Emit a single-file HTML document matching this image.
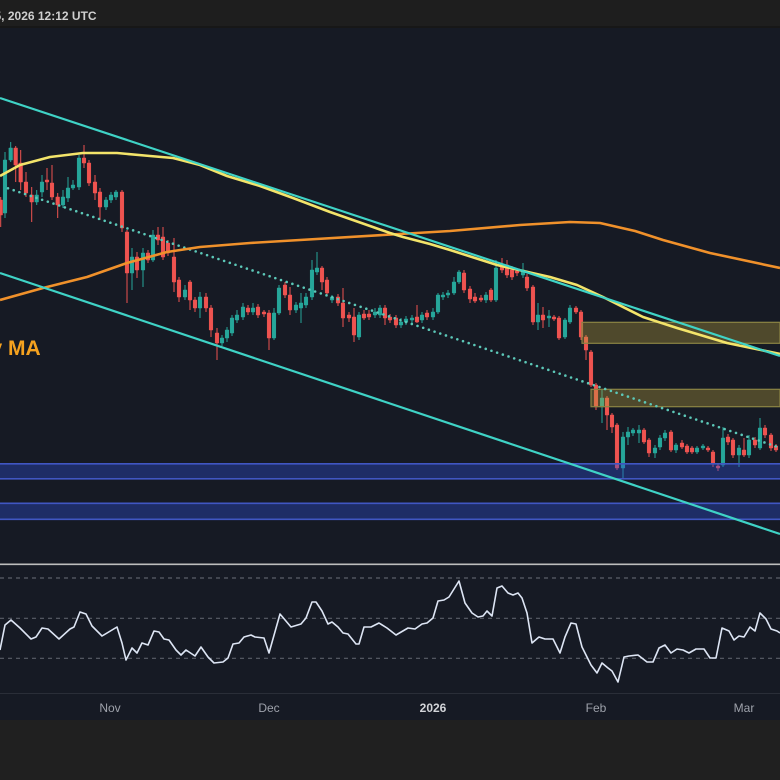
<!DOCTYPE html>
<html><head><meta charset="utf-8"><style>
html,body{margin:0;padding:0;background:#202020;}
svg{display:block;}
</style></head><body>
<svg width="780" height="780" viewBox="0 0 780 780" xmlns="http://www.w3.org/2000/svg" font-family="Liberation Sans, Arial, sans-serif">
<rect x="0" y="0" width="780" height="780" fill="#202020"/>
<rect x="0" y="0" width="780" height="26" fill="#1e1e1e"/>
<rect x="0" y="26" width="780" height="2" fill="#171717"/>
<text x="-5.5" y="20" font-size="12" font-weight="bold" fill="#cfcfcf">5, 2026 12:12 UTC</text>
<rect x="0" y="28" width="780" height="692" fill="#161a24"/>
<clipPath id="main"><rect x="0" y="28" width="780" height="536"/></clipPath>
<g clip-path="url(#main)">
<path fill="none" stroke="#26a69a" stroke-width="1" d="M5 152V218M10.7 142V162M36.7 190V205M42 175V197M63 190V208M68 177V202M73 180V190M79 155V190M106 197V210M111 192V203M116 190V200M132 248V290M143 248V287M153 230V262M185 285V300M200 292V318M222 335V346M227 327V342M232 315V336M237 310V323M243 303V320M253 303V315M274 308V340M279 285V315M296 302V313M301 293V323M306 293V308M312 260V300M317 252V275M332 295V303M359 312V340M375 308V318M380 305V318M401 318V328M406 316V325M412 315V323M422 312V323M433 308V320M438 293V314M443 292V300M448 290V298M454 277V295M459 270V284M486 292V303M496 260V302M523 263V278M538 303V330M549 310V327M565 318V339M570 305V324M602 390V423M623 432V478M628 427V445M633 428V436M639 425V443M655 445V458M660 435V450M665 430V441M676 443V453M697 446V454M703 444V450M723 427V467M739 445V467M749 435V458M760 418V450"/>
<path fill="#26a69a" stroke="#26a69a" stroke-width="0.5" d="M3.2 160h3.6v53h-3.6zM8.9 148h3.6v12h-3.6zM34.9 195h3.6v7h-3.6zM40.2 182h3.6v10h-3.6zM61.2 197h3.6v8h-3.6zM66.2 188h3.6v10h-3.6zM71.2 185h3.6v3h-3.6zM77.2 158h3.6v29h-3.6zM104.2 200h3.6v7h-3.6zM109.2 195h3.6v5h-3.6zM114.2 192h3.6v5h-3.6zM130.2 257h3.6v16h-3.6zM141.2 253h3.6v17h-3.6zM151.2 235h3.6v25h-3.6zM183.2 290h3.6v7h-3.6zM198.2 297h3.6v11h-3.6zM220.2 338h3.6v5h-3.6zM225.2 330h3.6v8h-3.6zM230.2 318h3.6v15h-3.6zM235.2 315h3.6v5h-3.6zM241.2 307h3.6v10h-3.6zM251.2 308h3.6v4h-3.6zM272.2 313h3.6v25h-3.6zM277.2 288h3.6v25h-3.6zM294.2 305h3.6v5h-3.6zM299.2 303h3.6v5h-3.6zM304.2 297h3.6v8h-3.6zM310.2 270h3.6v27h-3.6zM315.2 268h3.6v4h-3.6zM330.2 297h3.6v3h-3.6zM357.2 315h3.6v22h-3.6zM373.2 312h3.6v3h-3.6zM378.2 308h3.6v7h-3.6zM399.2 322h3.6v3h-3.6zM404.2 319h3.6v3h-3.6zM410.2 318h3.6v2h-3.6zM420.2 315h3.6v5h-3.6zM431.2 312h3.6v5h-3.6zM436.2 295h3.6v17h-3.6zM441.2 295h3.6v2h-3.6zM446.2 293h3.6v2h-3.6zM452.2 282h3.6v11h-3.6zM457.2 272h3.6v10h-3.6zM484.2 295h3.6v5h-3.6zM494.2 268h3.6v32h-3.6zM521.2 270h3.6v5h-3.6zM536.2 315h3.6v7h-3.6zM547.2 316h3.6v2h-3.6zM563.2 320h3.6v17h-3.6zM568.2 308h3.6v14h-3.6zM600.2 398h3.6v9h-3.6zM621.2 437h3.6v31h-3.6zM626.2 432h3.6v5h-3.6zM631.2 430h3.6v3h-3.6zM637.2 430h3.6v3h-3.6zM653.2 448h3.6v5h-3.6zM658.2 438h3.6v9h-3.6zM663.2 433h3.6v5h-3.6zM674.2 445h3.6v5h-3.6zM695.2 448h3.6v4h-3.6zM701.2 446h3.6v2h-3.6zM721.2 438h3.6v27h-3.6zM737.2 448h3.6v7h-3.6zM747.2 440h3.6v15h-3.6zM758.2 428h3.6v20h-3.6z"/>
<path fill="none" stroke="#ef5350" stroke-width="1" d="M0.7 197V227M15.7 146V182M20.7 150V190M26 172V197M31.7 187V222M47 168V190M52 165V200M57.7 193V218M84 145V168M89 160V186M95 175V200M100 188V220M122 190V232M127 230V303M137 252V278M148 250V263M158 227V245M163 227V260M168 240V256M174 238V292M179 277V302M190 280V310M195 297V312M206 293V312M211 305V337M217 328V360M248 305V315M258 304V318M264 310V317M269 310V350M285 282V298M290 287V315M322 266V290M327 277V296M338 294V306M343 288V327M349 312V322M354 308V342M364 310V320M369 310V320M385 305V325M390 314V323M396 315V328M417 305V323M427 310V320M464 270V293M470 286V303M475 293V303M481 295V302M491 288V302M502 258V273M507 260V278M512 266V280M517 268V276M527 274V291M533 285V325M543 307V328M554 315V321M559 316V340M576 306V314M581 310V340M586 335V360M591 350V387M596 383V410M607 396V430M612 413V433M617 423V470M644 428V444M649 438V457M671 430V452M682 440V449M687 444V454M692 446V454M708 446V452M713 450V467M718 463V471M728 434V445M733 438V458M744 438V457M755 437V448M765 425V438M771 433V451M776 444V452"/>
<path fill="#ef5350" stroke="#ef5350" stroke-width="0.5" d="M-1.1 200h3.6v15h-3.6zM13.9 148h3.6v17h-3.6zM18.9 163h3.6v19h-3.6zM24.2 182h3.6v11h-3.6zM29.9 195h3.6v7h-3.6zM45.2 180h3.6v2h-3.6zM50.2 183h3.6v14h-3.6zM55.9 197h3.6v8h-3.6zM82.2 158h3.6v5h-3.6zM87.2 163h3.6v20h-3.6zM93.2 182h3.6v11h-3.6zM98.2 192h3.6v15h-3.6zM120.2 192h3.6v36h-3.6zM125.2 232h3.6v41h-3.6zM135.2 257h3.6v13h-3.6zM146.2 253h3.6v7h-3.6zM156.2 235h3.6v5h-3.6zM161.2 237h3.6v20h-3.6zM166.2 243h3.6v10h-3.6zM172.2 257h3.6v25h-3.6zM177.2 280h3.6v17h-3.6zM188.2 282h3.6v18h-3.6zM193.2 300h3.6v8h-3.6zM204.2 297h3.6v11h-3.6zM209.2 308h3.6v22h-3.6zM215.2 333h3.6v10h-3.6zM246.2 308h3.6v4h-3.6zM256.2 307h3.6v8h-3.6zM262.2 312h3.6v2h-3.6zM267.2 313h3.6v25h-3.6zM283.2 285h3.6v10h-3.6zM288.2 295h3.6v15h-3.6zM320.2 268h3.6v14h-3.6zM325.2 280h3.6v13h-3.6zM336.2 297h3.6v6h-3.6zM341.2 303h3.6v15h-3.6zM347.2 315h3.6v3h-3.6zM352.2 317h3.6v18h-3.6zM362.2 314h3.6v4h-3.6zM367.2 314h3.6v3h-3.6zM383.2 308h3.6v10h-3.6zM388.2 317h3.6v3h-3.6zM394.2 318h3.6v7h-3.6zM415.2 317h3.6v5h-3.6zM425.2 313h3.6v4h-3.6zM462.2 273h3.6v17h-3.6zM468.2 289h3.6v10h-3.6zM473.2 297h3.6v4h-3.6zM479.2 298h3.6v2h-3.6zM489.2 290h3.6v10h-3.6zM500.2 265h3.6v5h-3.6zM505.2 265h3.6v10h-3.6zM510.2 270h3.6v7h-3.6zM515.2 271h3.6v2h-3.6zM525.2 277h3.6v11h-3.6zM531.2 287h3.6v35h-3.6zM541.2 315h3.6v5h-3.6zM552.2 317h3.6v2h-3.6zM557.2 318h3.6v20h-3.6zM574.2 308h3.6v4h-3.6zM579.2 312h3.6v25h-3.6zM584.2 337h3.6v13h-3.6zM589.2 352h3.6v33h-3.6zM594.2 385h3.6v22h-3.6zM605.2 398h3.6v17h-3.6zM610.2 415h3.6v12h-3.6zM615.2 425h3.6v43h-3.6zM642.2 430h3.6v12h-3.6zM647.2 440h3.6v13h-3.6zM669.2 432h3.6v18h-3.6zM680.2 443h3.6v4h-3.6zM685.2 446h3.6v6h-3.6zM690.2 448h3.6v4h-3.6zM706.2 448h3.6v2h-3.6zM711.2 452h3.6v11h-3.6zM716.2 466h3.6v2h-3.6zM726.2 437h3.6v5h-3.6zM731.2 440h3.6v15h-3.6zM742.2 450h3.6v5h-3.6zM753.2 440h3.6v5h-3.6zM763.2 428h3.6v7h-3.6zM769.2 435h3.6v13h-3.6zM774.2 446h3.6v4h-3.6z"/>

<!-- blue zones -->
<rect x="0" y="463.5" width="780" height="15.5" fill="rgba(45,75,210,0.38)"/>
<path d="M0 463.8H780M0 478.8H780" stroke="#4056c2" stroke-width="1.6"/>
<rect x="0" y="503" width="780" height="16.5" fill="rgba(45,75,210,0.38)"/>
<path d="M0 503.3H780M0 519.3H780" stroke="#4056c2" stroke-width="1.6"/>

<!-- yellow zones -->
<rect x="582" y="322.3" width="198" height="21" fill="rgba(185,163,59,0.35)" stroke="#8b8444" stroke-width="1.2"/>
<rect x="591" y="389.3" width="189" height="17.4" fill="rgba(185,163,59,0.35)" stroke="#8b8444" stroke-width="1.2"/>

<!-- dotted trend line -->
<line x1="8" y1="188.3" x2="780" y2="447.7" stroke="#5cc8b8" stroke-width="2.6" stroke-linecap="round" stroke-dasharray="0 6"/>

<!-- orange MA -->
<polyline fill="none" stroke="#f0912b" stroke-width="2.6" stroke-linejoin="round" points="0,300 43,288 87,277 127,263 167,252 200,247 250,243 300,240 383,235 450,231 520,225 570,222 600,223 635,231 663,240 710,253 780,268"/>
<!-- yellow MA -->
<polyline fill="none" stroke="#f3e46a" stroke-width="2.6" stroke-linejoin="round" points="0,176 20,165 50,157 83,153 117,153 150,156 173,158 200,165 227,176 260,186 293,198 330,212 370,226 390,233 403,237 430,244 450,250 497,265 510,268 550,277 577,285 603,297 643,317 677,328 727,343 780,354"/>
<!-- channel lines -->
<line x1="0" y1="98" x2="780" y2="356" stroke="#3fd3c6" stroke-width="2.2"/>
<line x1="0" y1="273" x2="780" y2="534" stroke="#3fd3c6" stroke-width="2.2"/>

<text x="-9.5" y="355" font-size="21" font-weight="bold" fill="#f5a21f">y MA</text>
</g>

<!-- RSI pane -->
<line x1="0" y1="564.3" x2="780" y2="564.3" stroke="#bdbdbd" stroke-width="1.6"/>
<g stroke="#5b5f69" stroke-width="1.2" stroke-dasharray="4 4">
<line x1="0" y1="578" x2="780" y2="578"/>
<line x1="0" y1="618.3" x2="780" y2="618.3"/>
<line x1="0" y1="658.3" x2="780" y2="658.3"/>
</g>
<line x1="0" y1="693.5" x2="780" y2="693.5" stroke="#2a2e38" stroke-width="1"/>
<polyline fill="none" stroke="#dde5f4" stroke-width="1.6" stroke-linejoin="round" points="0,650 5,625 11,620 20,628 31,639 36,637 42,628 48,629 59,639 70,629 74,627 80,612 86,614 92,626 102,636 117,627 122,643 126,660 132,648 137,653 142,643 148,645 154,631 159,632 164,639 169,640 176,650 181,655 186,650 195,656 201,647 208,657 214,663 223,662 228,658 233,644 239,643 244,637 251,635 255,637 264,638 269,653 280,614 291,627 301,624 306,618 312,602 316,602 322,611 328,624 332,622 338,627 343,633 348,634 356,644 359,644 364,627 371,627 379,623 387,628 396,635 408,628 415,629 422,624 427,623 433,618 438,601 444,600 449,597 459,581 465,603 472,613 478,617 483,616 487,611 492,616 497,588 502,586 508,593 513,595 518,593 522,598 527,613 532,643 539,637 545,639 553,639 560,653 565,637 571,623 576,624 582,647 591,665 597,673 602,663 608,668 612,671 618,682 624,657 629,656 638,655 647,662 653,662 659,648 665,645 671,653 677,649 683,650 689,653 696,649 704,649 710,658 716,658 722,628 729,631 734,640 739,636 744,637 750,627 755,631 760,613 766,619 771,629 777,631 780,633"/>

<!-- x axis labels -->
<g font-size="12" fill="#9ea2ab" text-anchor="middle">
<text x="110" y="712">Nov</text>
<text x="269" y="712">Dec</text>
<text x="433" y="712" font-weight="bold" fill="#d2d4d8">2026</text>
<text x="596" y="712">Feb</text>
<text x="744" y="712">Mar</text>
</g>
</svg>
</body></html>
